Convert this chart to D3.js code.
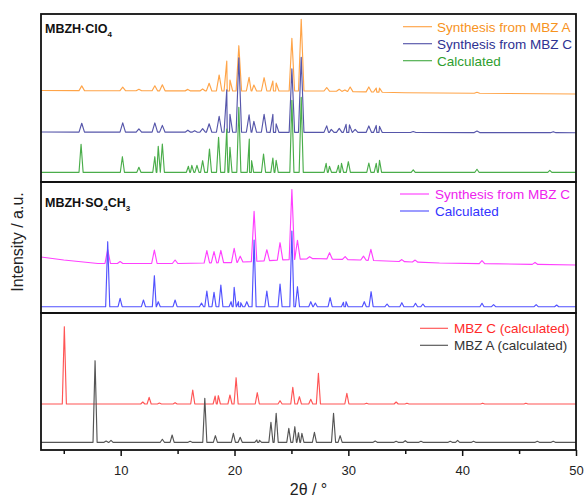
<!DOCTYPE html>
<html>
<head>
<meta charset="utf-8">
<script src="https://cdn.jsdelivr.net/npm/d3@7"></script>
<style>
  body { margin: 0; background: #fff; }
  svg { display: block; font-family: "Liberation Sans", Arial, sans-serif; }
</style>
</head>
<body>
<div id="chart-area"></div>
<script>
// x axis (2θ / °)
var twoThetaDomain = [3, 50];
var majorTicks = [10, 20, 30, 40, 50];
var minorTicks = [5, 15, 25, 35, 45];

// peaks: [2θ, intensity above baseline], baselines: [2θ, level]  (a.u.)
// --- MBZH·ClO4 ---
var clo4FromA = [[6.58,4.7],[10.18,3.5],[11.6,1.5],[13.0,5],[13.66,6],[15.9,1.5],[17.2,2],[17.77,7.7],
  [18.65,16],[19.32,30],[19.6,11],[20.38,45.3],[21.28,13.7],[21.7,6],[22.6,13.3],[23.37,10],[23.66,8],
  [25.04,52.7],[25.86,71.7],[28.1,3.5],[29.2,2],[29.7,1.5],[30.16,4.5],[31.8,5],[32.45,4],[32.74,4],[41.3,1]];
var clo4FromABase = [[3,91.5],[20,91],[28,91],[35,89.3],[50,88]];

var clo4FromC = [[6.58,8.8],[10.18,9.2],[11.6,3.2],[13.0,9.2],[13.66,6.8],[15.9,2],[16.5,1.5],[17.2,3.5],
  [17.77,8.5],[18.65,16],[19.32,42.5],[19.6,18],[20.38,74.5],[21.28,17.5],[21.7,11],[22.6,18],[23.37,18],
  [23.66,8.5],[25.04,63.5],[25.86,75],[28.1,6.5],[28.5,3],[29.2,4],[29.8,8],[30.1,7.5],[30.6,3],[31.8,6.5],
  [32.45,7],[32.74,6],[35.7,1],[41.3,1.5],[48,1]];
var clo4FromCBase = [[3,50],[50,49.3]];

var clo4Calc = [[6.52,28],[10.15,15.6],[11.6,5],[13.0,15.6],[13.3,26],[13.66,28.3],[15.95,6],[16.25,7],
  [16.7,7],[17.2,11.6],[17.8,23.3],[18.6,35],[19.32,43.3],[19.6,25],[20.38,65],[21.3,33.3],[21.5,11.6],
  [22.55,18.3],[23.37,14.3],[23.66,12],[25.04,72],[25.86,75],[28.05,9],[28.34,6],[29.13,7],[29.4,9],
  [30.0,10.6],[31.8,9.3],[32.45,9],[32.74,12],[35.7,2.5],[41.3,3],[47.7,2]];
var clo4CalcBase = [[3,9.7],[50,9.7]];

// --- MBZH·SO4CH3 ---
var so4FromC = [[8.86,14],[9.95,2],[12.96,13.4],[14.78,3.5],[17.57,12.3],[18.2,11.3],[18.8,12.3],
  [19.97,14.2],[20.5,6],[21.72,50],[22.84,11],[24.0,17.3],[25.04,70],[25.53,19],[26.6,2],[28.35,6.3],
  [29.72,3],[31.33,4],[31.98,11],[34.7,2],[35.87,2],[41.74,3],[46.4,2]];
var so4FromCBase = [[3,56],[5,53],[8,49.5],[15,49.5],[20,50.5],[24,53],[27,54.5],[31,53],[38,50],[50,48]];

var so4Calc = [[8.86,65],[9.95,8.4],[12.0,6.7],[12.96,31],[13.3,5],[14.78,6.7],[17.1,3.7],[17.57,15.7],
  [18.2,14.4],[18.8,21.7],[19.7,5],[19.97,19.4],[20.35,5],[20.55,4],[21.08,5],[21.72,66.7],[22.84,15.7],
  [24.0,22.7],[25.04,75.7],[25.53,20],[26.7,5],[27.1,3.7],[28.4,9],[29.57,4.4],[29.8,5],[31.4,5],[32.0,15],
  [33.4,2.7],[34.7,4],[35.9,3.4],[36.55,2.7],[41.74,3.4],[42.76,2],[46.5,2],[48.3,1.7]];
var so4CalcBase = [[3,6.3],[50,6.3]];

// --- MBZ polymorphs ---
var mbzC = [[5.05,77.3],[11.94,2],[12.5,6.7],[13.4,1],[14.78,1.3],[16.33,14],[18.3,8],[18.58,8.3],
  [19.6,9],[20.14,26.3],[22.0,11.3],[24.0,3.3],[25.12,16.7],[25.7,7.3],[26.7,4.7],[27.37,30.7],[29.87,10.7],
  [31.6,0.8],[34.2,2],[35.15,0.8],[41.8,0.8],[45.6,0.8]];
var mbzCBase = [[3,46],[50,46]];

var mbzA = [[7.75,81.6],[8.72,1.3],[9.15,2],[13.66,3],[14.52,7.3],[16.1,1],[17.39,44],[18.32,6.6],
  [19.9,9],[20.5,5],[21.96,2.3],[22.2,2],[23.2,20],[23.66,29],[24.77,14],[25.3,15.6],[25.62,9.6],
  [25.92,9],[27.02,10],[28.7,29],[29.28,6.6],[32.36,1.3],[34.2,1],[35.0,1.6],[36.38,1],[38.95,1],
  [39.6,2],[41.0,1],[46.6,1],[48.0,1]];
var mbzABase = [[3,7.7],[50,7.7]];

var panelTitles = [["MBZH·ClO", "4", ""], ["MBZH·SO", "4", "CH", "3"], null];

// layout
var W = 584, H = 497;
var left = 41, right = 576;
var panels = [
  { top: 14, bottom: 182, max: 168, legend: { x1: 403, x2: 432, tx: 437, y0: 26.7 } },
  { top: 182, bottom: 313, max: 131, legend: { x1: 400, x2: 429, tx: 435, y0: 194 } },
  { top: 313, bottom: 450, max: 137, legend: { x1: 420, x2: 448, tx: 454, y0: 328.3 } }
];

var series = [
  { panel: 0, peaks: clo4FromA, base: clo4FromABase, w: 0.24, color: "#ffa448", text: "#f7931e", label: "Synthesis from MBZ A" },
  { panel: 0, peaks: clo4FromC, base: clo4FromCBase, w: 0.24, color: "#5656aa", text: "#2e3192", label: "Synthesis from MBZ C" },
  { panel: 0, peaks: clo4Calc, base: clo4CalcBase, w: 0.18, color: "#4aad4a", text: "#2e9e2e", label: "Calculated" },
  { panel: 1, peaks: so4FromC, base: so4FromCBase, w: 0.24, color: "#ff40ff", text: "#ee22ee", label: "Synthesis from MBZ C" },
  { panel: 1, peaks: so4Calc, base: so4CalcBase, w: 0.18, color: "#5252ff", text: "#3333ff", label: "Calculated" },
  { panel: 2, peaks: mbzC, base: mbzCBase, w: 0.18, color: "#ff5555", text: "#ff2a2a", label: "MBZ C (calculated)" },
  { panel: 2, peaks: mbzA, base: mbzABase, w: 0.18, color: "#555555", text: "#333333", label: "MBZ A (calculated)" }
];

var svg = d3.select("#chart-area").append("svg")
  .attr("width", W).attr("height", H);

var x = d3.scaleLinear().domain(twoThetaDomain).range([left, right]);

// peaks -> line points (baseline foot, top, baseline foot)
function tracePoints(s) {
  var b = d3.scaleLinear().domain(s.base.map(function(d) { return d[0]; }))
    .range(s.base.map(function(d) { return d[1]; }));
  var pts = [[twoThetaDomain[0], b(twoThetaDomain[0])], [twoThetaDomain[1], b(twoThetaDomain[1])]];
  s.base.forEach(function(d) {
    var inside = s.peaks.some(function(p) { return Math.abs(p[0] - d[0]) <= s.w; });
    if (!inside && d[0] > twoThetaDomain[0] && d[0] < twoThetaDomain[1]) pts.push([d[0], d[1]]);
  });
  s.peaks.forEach(function(p) {
    pts.push([p[0] - s.w, b(p[0] - s.w)], [p[0], b(p[0]) + p[1]], [p[0] + s.w, b(p[0] + s.w)]);
  });
  return pts.sort(function(a, c) { return a[0] - c[0]; });
}

panels.forEach(function(p, i) {
  p.y = d3.scaleLinear().domain([0, p.max]).range([p.bottom, p.top]);
  svg.append("clipPath").attr("id", "clip" + i)
    .append("rect").attr("x", left).attr("y", p.top)
    .attr("width", right - left).attr("height", p.bottom - p.top);
});

// traces
series.forEach(function(s) {
  var p = panels[s.panel];
  var line = d3.line()
    .x(function(d) { return x(d[0]); })
    .y(function(d) { return p.y(d[1]); });
  svg.append("path")
    .datum(tracePoints(s))
    .attr("clip-path", "url(#clip" + s.panel + ")")
    .attr("fill", "none")
    .attr("stroke", s.color)
    .attr("stroke-width", 1.15)
    .attr("stroke-linejoin", "round")
    .attr("d", line);
});

// legends
panels.forEach(function(p, i) {
  var items = series.filter(function(s) { return s.panel === i; });
  var g = svg.append("g");
  items.forEach(function(s, k) {
    var yy = p.legend.y0 + k * 17;
    g.append("line")
      .attr("x1", p.legend.x1).attr("x2", p.legend.x2)
      .attr("y1", yy).attr("y2", yy)
      .attr("stroke", s.color).attr("stroke-width", 1.15);
    g.append("text")
      .attr("x", p.legend.tx).attr("y", yy + 5)
      .attr("fill", s.text)
      .style("font-size", "13.5px")
      .text(s.label);
  });
});

// panel titles with subscripts
var titleY = [33.3, 206.5];
panelTitles.forEach(function(t, i) {
  if (!t) return;
  var txt = svg.append("text")
    .attr("x", 45).attr("y", titleY[i])
    .style("font-size", "12.5px").style("font-weight", "bold")
    .attr("fill", "#111");
  for (var k = 0; k < t.length; k += 2) {
    txt.append("tspan").attr("dy", k === 0 ? 0 : -4).text(t[k]);
    if (t[k + 1]) {
      txt.append("tspan").attr("dy", 4).style("font-size", "8px").text(t[k + 1]);
    }
  }
});

// frames
panels.forEach(function(p) {
  svg.append("rect")
    .attr("x", left).attr("y", p.top)
    .attr("width", right - left).attr("height", p.bottom - p.top)
    .attr("fill", "none").attr("stroke", "#111").attr("stroke-width", 1.8);
});

// x axis
var bottom = panels[2].bottom;
var xAxis = svg.append("g")
  .attr("transform", "translate(0," + bottom + ")")
  .call(d3.axisBottom(x).tickValues(majorTicks).tickSize(6).tickPadding(0));
xAxis.select(".domain").remove();
xAxis.selectAll(".tick line").attr("stroke", "#111").attr("stroke-width", 1.5);
xAxis.selectAll(".tick text")
  .attr("y", 16)
  .attr("fill", "#222")
  .style("font-size", "13px")
  .style("font-family", "'Liberation Sans', Arial, sans-serif");

var xMinor = svg.append("g")
  .attr("transform", "translate(0," + bottom + ")")
  .call(d3.axisBottom(x).tickValues(minorTicks).tickSize(4).tickFormat(""));
xMinor.select(".domain").remove();
xMinor.selectAll(".tick line").attr("stroke", "#111").attr("stroke-width", 1.5);

// axis titles
svg.append("text")
  .attr("x", (left + right) / 2).attr("y", 495)
  .attr("text-anchor", "middle")
  .attr("fill", "#222")
  .style("font-size", "16px")
  .text("2θ / °");

svg.append("text")
  .attr("transform", "translate(23," + 242 + ") rotate(-90)")
  .attr("text-anchor", "middle")
  .attr("fill", "#222")
  .style("font-size", "16px")
  .text("Intensity / a.u.");
</script>
</body>
</html>
